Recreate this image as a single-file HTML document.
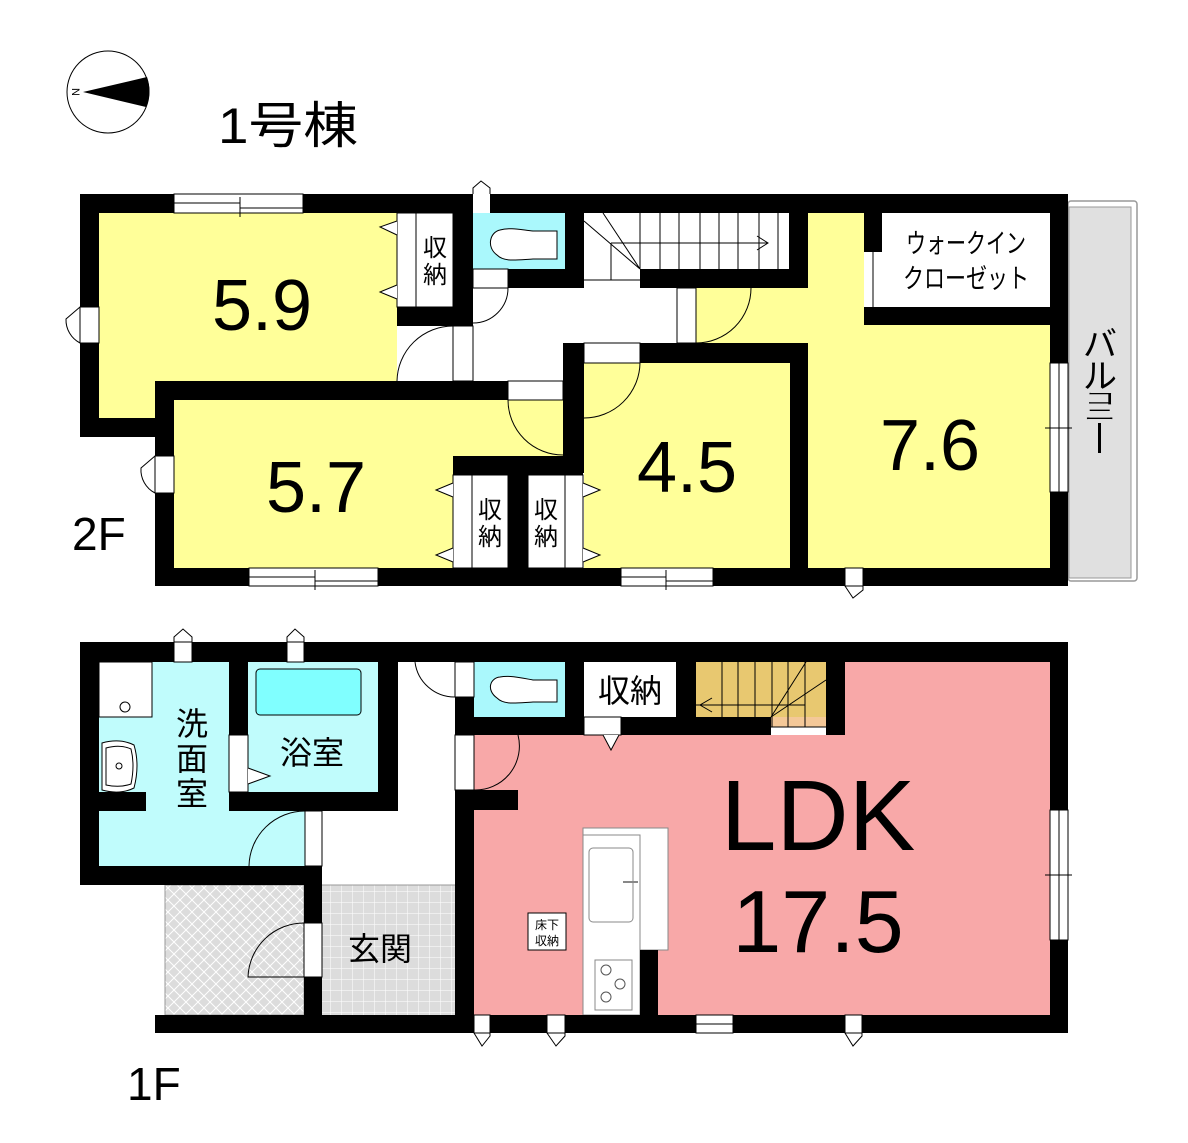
<!DOCTYPE html>
<html><head><meta charset="utf-8"><style>
html,body{margin:0;padding:0;background:#fff;}
svg{display:block;}
text{font-family:"Liberation Sans","Noto Sans CJK JP",sans-serif;fill:#000;}
</style></head><body>
<svg width="1188" height="1143" viewBox="0 0 1188 1143" xmlns="http://www.w3.org/2000/svg">
<defs>
<pattern id="tile" width="11" height="11" patternUnits="userSpaceOnUse"><rect width="11" height="11" fill="#dcdcdc"/><path d="M0 0H11M0 0V11" stroke="#fff" stroke-width="1"/></pattern>
<pattern id="hatch" width="12" height="12" patternUnits="userSpaceOnUse"><rect width="12" height="12" fill="#dcdcdc"/><path d="M0 0L12 12M12 0L0 12" stroke="#fff" stroke-width="1"/></pattern>
</defs>

<circle cx="108" cy="92" r="41" fill="#fff" stroke="#000" stroke-width="1"/>
<path d="M83 92 L147 77 A41 41 0 0 1 146 107 Z" fill="#000"/>
<text x="76" y="92" font-size="11" transform="rotate(90 76 92)" text-anchor="middle" dy="4">N</text>
<text x="218" y="143" font-size="50" textLength="140" lengthAdjust="spacingAndGlyphs">1号棟</text>

<!-- ===== 2F ===== -->
<rect x="1068" y="201" width="69" height="380" rx="3" fill="#fff" stroke="#999" stroke-width="1.5"/>
<rect x="1069" y="207" width="62" height="371" fill="#e0e0e0" stroke="#999" stroke-width="1"/>
<text font-size="34" text-anchor="middle" x="1100" y="356">バ</text>
<text font-size="34" text-anchor="middle" x="1100" y="388">ル</text>
<text font-size="32" text-anchor="middle" transform="translate(1100 404) scale(1 0.5)">コ</text>
<text font-size="32" text-anchor="middle" transform="translate(1100 420) scale(1 0.5)">ニ</text>
<rect x="1098" y="423" width="3" height="30" fill="#000"/>

<path d="M99 213 H453 V381 H155 V418 H99 Z" fill="#ffff99"/>
<rect x="174" y="400" width="390" height="168" fill="#ffff99"/>
<rect x="584" y="363" width="206" height="205" fill="#ffff99"/>
<path d="M808 213 H864 V325 H1050 V568 H808 V343 H696 V288 H808 Z" fill="#ffff99"/>
<rect x="473" y="213" width="92" height="56" fill="#aaf8fc"/>
<rect x="397" y="326" width="56" height="55" fill="#fff"/>
<rect x="882" y="213" width="168" height="94" fill="#fff"/>
<rect x="397" y="213" width="56" height="94" fill="#fff" stroke="#000"/>
<line x1="416" y1="213" x2="416" y2="307" stroke="#000"/>
<rect x="453" y="475" width="55" height="93" fill="#fff" stroke="#000"/>
<line x1="472" y1="475" x2="472" y2="568" stroke="#000"/>
<rect x="528" y="475" width="55" height="93" fill="#fff" stroke="#000"/>
<line x1="565" y1="475" x2="565" y2="568" stroke="#000"/>
<g fill="#fff" stroke="#000" stroke-width="1">
<path d="M397 221 L380 227 L397 235"/><path d="M397 285 L380 292 L397 299"/>
<path d="M453 483 L436 490 L453 497"/><path d="M453 548 L436 555 L453 562"/>
<path d="M583 483 L600 490 L583 497"/><path d="M583 548 L600 555 L583 562"/>
</g>
<text font-size="24" text-anchor="middle"><tspan x="435" y="256">収</tspan><tspan x="435" y="283">納</tspan></text>
<text font-size="24" text-anchor="middle"><tspan x="490" y="518">収</tspan><tspan x="490" y="545">納</tspan></text>
<text font-size="24" text-anchor="middle"><tspan x="546" y="518">収</tspan><tspan x="546" y="545">納</tspan></text>
<text font-size="27" x="906" y="253" textLength="120" lengthAdjust="spacingAndGlyphs">ウォークイン</text>
<text font-size="27" x="903" y="288" textLength="126" lengthAdjust="spacingAndGlyphs">クローゼット</text>
<line x1="873" y1="252" x2="873" y2="307" stroke="#000"/>

<path d="M533 231 H557 V259 H533 C515 260 504 262 497 255 C486 247 490 232 500 230 C510 227 522 230 533 231 Z" fill="#fff" stroke="#000"/>
<g stroke="#000" stroke-width="1" fill="none">
<path d="M640 213V269M660 213V269M679 213V269M700 213V269M719 213V269M738 213V269M759 213V269M778 213V269"/>
<path d="M584 221 L640 269 M603 213 L640 269 M611 243 H768 M611 243 V280 M757 236 L768 243 L757 250"/>
<path d="M584 280 H640"/>
</g>

<g fill="#000">
<rect x="80" y="194" width="988" height="19"/>
<rect x="80" y="194" width="19" height="243"/>
<rect x="80" y="418" width="94" height="19"/>
<rect x="155" y="381" width="19" height="205"/>
<rect x="155" y="381" width="353" height="19"/>
<rect x="155" y="568" width="913" height="18"/>
<rect x="1050" y="194" width="18" height="392"/>
<rect x="453" y="194" width="20" height="132"/>
<rect x="397" y="307" width="76" height="19"/>
<rect x="565" y="194" width="19" height="94"/>
<rect x="508" y="269" width="76" height="19"/>
<rect x="789" y="194" width="19" height="94"/>
<rect x="640" y="269" width="168" height="19"/>
<rect x="864" y="213" width="18" height="39"/>
<rect x="864" y="307" width="186" height="18"/>
<rect x="563" y="343" width="21" height="130"/>
<rect x="640" y="343" width="168" height="20"/>
<rect x="790" y="343" width="18" height="243"/>
<rect x="453" y="456" width="130" height="19"/>
<rect x="508" y="456" width="20" height="112"/>
</g>
<g fill="#fff" stroke="#000" stroke-width="1">
<rect x="174" y="194" width="129" height="19"/>
<rect x="249" y="568" width="129" height="18"/>
<rect x="621" y="568" width="92" height="18"/>
<rect x="1050" y="363" width="18" height="129"/>
<rect x="80" y="307" width="19" height="36"/>
<rect x="155" y="456" width="19" height="37"/>
<rect x="473" y="183" width="17" height="30" stroke="none"/>
<rect x="473" y="269" width="35" height="19"/>
<rect x="508" y="381" width="55" height="19"/>
<rect x="584" y="343" width="56" height="20"/>
<rect x="677" y="288" width="19" height="55"/>
<rect x="453" y="326" width="20" height="55"/>
<rect x="845" y="568" width="18" height="18"/>
</g>
<g stroke="#000" stroke-width="1" fill="none">
<path d="M174 203H240M240 197V217M240 208H303"/>
<path d="M249 577H315M315 570V590M315 581H378"/>
<path d="M621 577H666M666 570V590M666 581H713"/>
<path d="M1059 363V428M1045 428H1072M1059 428V492"/>
<path d="M80 307 L66 319 A26 26 0 0 0 80 343"/>
<path d="M155 456 L141 468 A26 26 0 0 0 155 493"/>
<path d="M473 194 V188 L481 181 L490 188 V194"/>
<path d="M845 586 L853 598 L863 590 V586"/>
<path d="M453 326 A56 56 0 0 0 397 381"/>
<path d="M508 288 A35 35 0 0 1 473 323"/>
<path d="M508 400 A55 55 0 0 0 563 455"/>
<path d="M640 363 A56 56 0 0 1 584 418"/>
<path d="M751 288 A55 55 0 0 1 696 343"/>
</g>
<text font-size="72" text-anchor="middle" x="262" y="330">5.9</text>
<text font-size="72" text-anchor="middle" x="316" y="512">5.7</text>
<text font-size="72" text-anchor="middle" x="687" y="492">4.5</text>
<text font-size="72" text-anchor="middle" x="930" y="470">7.6</text>
<text font-size="46" x="72" y="550">2F</text>

<!-- ===== 1F ===== -->
<path d="M99 662 H229 V811 H305 V866 H99 Z" fill="#c0fcfc"/>
<rect x="248" y="662" width="130" height="130" fill="#c0fcfc"/>
<rect x="256" y="669" width="105" height="46" rx="4" fill="#80ffff" stroke="#000"/>
<rect x="99" y="662" width="53" height="55" fill="#fff" stroke="#000"/>
<circle cx="125" cy="707" r="5" fill="#fff" stroke="#000"/>
<path d="M102 743 Q120 738 134 745 Q140 765 134 788 Q120 795 102 790 Z" fill="#fff" stroke="#000"/>
<path d="M106 748 Q120 744 131 749 Q135 765 131 784 Q120 788 106 785 Z" fill="#fff" stroke="#000"/>
<circle cx="119" cy="766" r="3" fill="#fff" stroke="#000"/>
<rect x="165" y="885" width="139" height="130" fill="url(#hatch)" stroke="#999"/>
<rect x="322" y="885" width="133" height="130" fill="url(#tile)"/>
<line x1="322" y1="885" x2="455" y2="885" stroke="#999"/>
<path d="M474 735 H1050 V1015 H474 Z" fill="#f8a8a8"/>
<rect x="845" y="662" width="205" height="80" fill="#f8a8a8"/>
<rect x="474" y="662" width="91" height="55" fill="#aaf8fc"/>
<rect x="584" y="662" width="92" height="55" fill="#fff"/>
<rect x="696" y="662" width="130" height="65" fill="#e8c870"/>
<rect x="771" y="717" width="55" height="10" fill="#f4c898"/>
<g stroke="#000" stroke-width="1" fill="none">
<path d="M722 662V717M738 662V717M755 662V717M772 662V727M788 662V727M805 662V727"/>
<path d="M771 717 L806 662 M771 717 L826 680 M696 705 H805 V727 M712 698 L700 705 L712 712 M771 727 H826"/>
</g>
<path d="M533 680 H557 V702 H533 C515 703 504 705 497 698 C486 690 490 678 500 677 C510 675 522 678 533 680 Z" fill="#fff" stroke="#000"/>
<rect x="583" y="828" width="85" height="122" fill="#fff" stroke="#888"/>
<rect x="583" y="835" width="57" height="180" fill="#fff" stroke="#888"/>
<rect x="589" y="848" width="44" height="74" rx="4" fill="#fff" stroke="#888"/>
<line x1="623" y1="882" x2="638" y2="882" stroke="#888" stroke-width="2"/>
<rect x="595" y="960" width="37" height="50" fill="#fff" stroke="#888"/>
<circle cx="606" cy="970" r="5" fill="none" stroke="#555"/><circle cx="620" cy="984" r="5" fill="none" stroke="#555"/><circle cx="606" cy="997" r="5" fill="none" stroke="#555"/>
<rect x="528" y="913" width="38" height="37" fill="#fff" stroke="#000"/>
<text font-size="12" text-anchor="middle"><tspan x="547" y="929">床下</tspan><tspan x="547" y="945">収納</tspan></text>

<g fill="#000">
<rect x="80" y="642" width="988" height="20"/>
<rect x="80" y="642" width="19" height="243"/>
<rect x="80" y="866" width="242" height="19"/>
<rect x="229" y="642" width="19" height="93"/>
<rect x="229" y="792" width="169" height="19"/>
<rect x="99" y="792" width="47" height="19"/>
<rect x="378" y="642" width="20" height="169"/>
<rect x="304" y="866" width="18" height="167"/>
<rect x="155" y="1015" width="913" height="18"/>
<rect x="455" y="697" width="19" height="38"/>
<rect x="455" y="717" width="129" height="18"/>
<rect x="455" y="790" width="63" height="20"/>
<rect x="455" y="790" width="19" height="243"/>
<rect x="565" y="642" width="19" height="93"/>
<rect x="676" y="642" width="20" height="93"/>
<rect x="621" y="717" width="150" height="18"/>
<rect x="826" y="642" width="19" height="93"/>
<rect x="640" y="950" width="18" height="83"/>
<rect x="1050" y="642" width="18" height="391"/>
</g>
<g fill="#fff" stroke="#000" stroke-width="1">
<rect x="174" y="642" width="18" height="20"/>
<rect x="287" y="642" width="17" height="20"/>
<rect x="229" y="735" width="19" height="57"/>
<rect x="305" y="811" width="17" height="55"/>
<rect x="304" y="923" width="18" height="54"/>
<rect x="455" y="735" width="19" height="55"/>
<rect x="455" y="662" width="19" height="35"/>
<rect x="584" y="717" width="37" height="18"/>
<rect x="1050" y="810" width="18" height="130"/>
<rect x="474" y="1015" width="16" height="18"/>
<rect x="547" y="1015" width="18" height="18"/>
<rect x="696" y="1015" width="37" height="18"/>
<rect x="845" y="1015" width="17" height="18"/>
</g>
<g stroke="#000" stroke-width="1" fill="none">
<path d="M174 642 V637 L183 629 L192 637 V642"/>
<path d="M287 642 V637 L295 629 L304 637 V642"/>
<path d="M474 1033 L482 1046 L490 1036 V1033"/>
<path d="M547 1033 L556 1046 L565 1036 V1033"/>
<path d="M845 1033 L853 1046 L862 1036 V1033"/>
<path d="M696 1024 H733"/>
<path d="M1059 810V875M1045 875H1072M1059 875V940"/>
<path d="M248 768 L270 776 L248 784" fill="#fff"/>
<path d="M603 735 L611 750 L619 735" fill="#fff"/>
<path d="M305 811 A56 56 0 0 0 249 866"/>
<path d="M304 923 A56 56 0 0 0 248 977 H304"/>
<path d="M415 662 A40 40 0 0 0 455 697"/>
<path d="M518 735 A44 44 0 0 1 474 790"/>
</g>
<text font-size="32" text-anchor="middle"><tspan x="192" y="735">洗</tspan><tspan x="192" y="770">面</tspan><tspan x="192" y="805">室</tspan></text>
<text font-size="32" x="280" y="764">浴室</text>
<text font-size="32" x="598" y="702">収納</text>
<text font-size="32" x="348" y="960">玄関</text>
<text font-size="100" text-anchor="middle" x="818" y="850">LDK</text>
<text font-size="88" text-anchor="middle" x="818" y="952">17.5</text>
<text font-size="46" x="127" y="1100">1F</text>
</svg>
</body></html>
